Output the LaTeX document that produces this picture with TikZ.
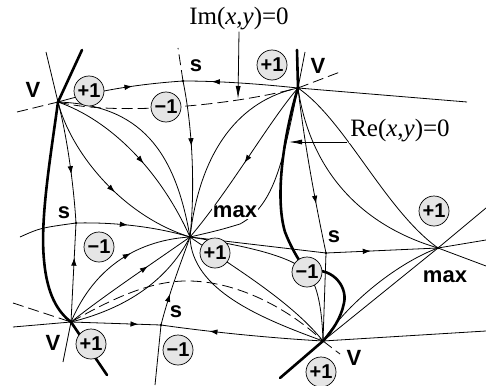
\documentclass[tikz,border=0pt]{standalone}
\usepackage{fontspec}
\setmainfont{Liberation Serif}
\setsansfont{Liberation Sans}
\usetikzlibrary{arrows.meta}
\usetikzlibrary{decorations.markings}

\tikzset{
  trj/.style={line width=0.8pt},
  reline/.style={line width=2.6pt, line cap=round},
  imline/.style={line width=0.8pt, dash pattern=on 11pt off 5pt},
  flow/.style={trj, postaction={decorate},
    decoration={markings, mark=at position #1 with {\arrow{Latex[length=8pt,width=5.5pt]}}}},
  flow/.default=0.5,
  idx/.style={circle, draw, line width=0.7pt, fill=gray!20, minimum size=30pt, inner sep=0pt,
    font=\fontsize{20}{20}\selectfont\sffamily\bfseries},
  ptlabel/.style={font=\fontsize{22}{22}\selectfont\sffamily\bfseries, inner sep=1pt},
  eqn/.style={font=\fontsize{25}{25}\selectfont, inner sep=1pt}
}

\begin{document}
\begin{tikzpicture}[x=1pt,y=-1pt]
\useasboundingbox (0,0) rectangle (486,385);

\coordinate (V1) at (58,102);
\coordinate (V2) at (298,88);
\coordinate (V3) at (71,322);
\coordinate (V4) at (323,341);
\coordinate (C) at (190,237);
\coordinate (M2) at (438,248);
\coordinate (Sa) at (183,81);
\coordinate (Sb) at (76,223);
\coordinate (Sc) at (326,253);
\coordinate (Sd) at (161,325);

\coordinate (a1) at (82,50);
\coordinate (a2) at (46,52);
\coordinate (a3) at (17,112);
\coordinate (a4) at (178,48);
\coordinate (a5) at (297,50);
\coordinate (a6) at (305,52);
\coordinate (a7) at (340,72);
\coordinate (a8) at (467,102);
\coordinate (a9) at (20,237);
\coordinate (a10) at (13,303);
\coordinate (a11) at (13,327);
\coordinate (a12) at (63,362);
\coordinate (a13) at (107,375);
\coordinate (a14) at (155,385);
\coordinate (a15) at (280,378);
\coordinate (a16) at (340,354);
\coordinate (a17) at (486,331);
\coordinate (m1) at (486,208);
\coordinate (m2) at (486,240);
\coordinate (m3) at (486,266);
\coordinate (imtip) at (238,99);
\coordinate (restart) at (347,142);
\coordinate (retip) at (289,142);

\draw[imline] (a3) -- (V1);
\draw[imline] (V1) .. controls (110,115) and (220,108) .. (V2);
\draw[imline] (V2) -- (a7);
\draw[imline] (Sa) -- (a4);
\draw[imline] (a10) -- (V3);
\draw[imline] (V3) .. controls (110,300) and (150,280) .. (190,281) .. controls (240,282) and (290,310) .. (V4);
\draw[imline] (V4) -- (a16);

\draw[trj] (V1) -- (a2);
\draw[flow=0.6] (V1) .. controls (100,90) and (140,84) .. (Sa);
\draw[flow=0.75] (V2) .. controls (260,84) and (220,81) .. (Sa);
\draw[flow=0.42] (Sa) .. controls (193,130) and (195,190) .. (C);
\draw[trj] (V1) .. controls (140,105) and (175,150) .. (C);
\draw[flow=0.55] (V1) .. controls (110,120) and (160,170) .. (C);
\draw[flow=0.55] (V1) .. controls (70,150) and (120,215) .. (C);
\draw[flow=0.6] (V1) .. controls (68,140) and (74,190) .. (Sb);
\draw[flow=0.65] (V3) -- (Sb);
\draw[trj] (a9) .. controls (40,228) .. (Sb);
\draw[flow=0.45] (Sb) .. controls (120,222) and (160,228) .. (C);
\draw[flow=0.6] (V3) .. controls (95,265) and (140,240) .. (C);
\draw[flow=0.65] (V3) .. controls (105,295) and (150,265) .. (C);
\draw[trj] (V3) .. controls (120,310) and (165,285) .. (C);
\draw[flow=0.75] (V3) -- (Sd);
\draw[flow=0.7] (V4) .. controls (270,338) and (210,332) .. (Sd);
\draw[flow=0.35] (Sd) .. controls (170,290) and (182,260) .. (C);
\draw[trj] (Sd) -- (a14);
\draw[trj] (V3) -- (a11);
\draw[trj] (V3) -- (a12);

\draw[trj] (V2) -- (a6);
\draw[trj] (V2) -- (a8);
\draw[trj] (V2) .. controls (240,100) and (200,150) .. (C);
\draw[flow=0.5] (V2) .. controls (270,120) and (230,190) .. (C);
\draw[trj] (V2) .. controls (283,160) and (275,205) .. (240,224) .. controls (220,230) .. (C);
\draw[flow=0.7] (V2) .. controls (305,150) and (318,215) .. (Sc);
\draw[trj] (V2) .. controls (310,170) and (360,225) .. (M2);
\draw[trj] (V2) .. controls (345,120) and (385,210) .. (M2);

\draw[trj] (C) -- (Sc);
\draw[flow=0.4] (Sc) -- (M2);
\draw[trj] (Sc) -- (V4);
\draw[trj] (C) .. controls (240,245) and (290,255) .. (307,272) .. controls (318,285) and (322,310) .. (V4);
\draw[trj] (C) .. controls (230,265) and (290,300) .. (V4);
\draw[trj] (C) .. controls (192,290) and (260,318) .. (V4);
\draw[trj] (V4) -- (M2);
\draw[trj] (V4) .. controls (350,300) and (400,262) .. (M2);
\draw[trj] (V4) -- (a17);
\draw[trj] (M2) -- (m1);
\draw[trj] (M2) -- (m2);
\draw[trj] (M2) -- (m3);

\draw[reline] (V1) -- (a1);
\draw[reline] (V1) .. controls (50,160) and (40,220) .. (44,260) .. controls (47,295) and (58,312) .. (V3);
\draw[reline] (V3) -- (a13);
\draw[reline] (V2) -- (a5);
\draw[reline] (V2) .. controls (285,130) and (274,195) .. (285,232) .. controls (292,250) and (300,262) .. (307,272)
  .. controls (330,265) and (348,285) .. (344,303) .. controls (341,318) and (333,330) .. (V4);
\draw[reline] (V4) -- (a15);

\foreach \p in {V1,V2,V3,V4,C,M2,Sa,Sb,Sc,Sd}
  \fill (\p) circle (1.4pt);

\node[idx] (c1) at (89,91) {+1};
\node[idx] (c2) at (166,107) {−1};
\node[idx] (c3) at (272,65) {+1};
\node[idx] (c4) at (99,247) {−1};
\node[idx] (c5) at (215,253) {+1};
\node[idx] (c6) at (307,272) {−1};
\node[idx] (c7) at (434,211) {+1};
\node[idx] (c8) at (91,344) {+1};
\node[idx] (c9) at (178,350) {−1};
\node[idx] (c10) at (321,372) {+1};

\node[ptlabel] (v1lab) at (33,90) {V};
\node[ptlabel] (v2lab) at (318,66) {V};
\node[ptlabel] (v3lab) at (53,343) {V};
\node[ptlabel] (v4lab) at (354,358) {V};
\node[ptlabel] (salab) at (196,66) {s};
\node[ptlabel] (sblab) at (64,213) {s};
\node[ptlabel] (sclab) at (334,237) {s};
\node[ptlabel] (sdlab) at (176,312) {s};
\node[ptlabel, fill=white] (maxc) at (235,212) {max};
\node[ptlabel] (maxr) at (445,277) {max};

\node[eqn] (imlab) at (239,19) {Im(\textit{x},\textit{y})=0};
\node[eqn, fill=white] (relab) at (400,131) {Re(\textit{x},\textit{y})=0};
\draw[trj, -{Latex[length=13pt,width=5pt]}] (imlab.south) -- (imtip);
\draw[trj, -{Latex[length=13pt,width=5pt]}] (restart) -- (retip);
\end{tikzpicture}
\end{document}
